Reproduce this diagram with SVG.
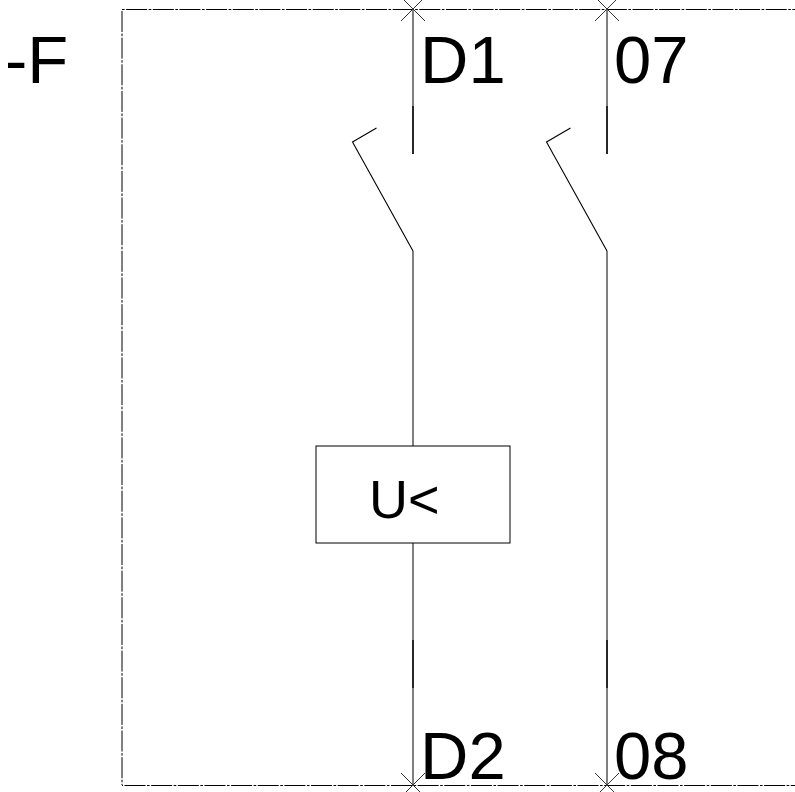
<svg xmlns="http://www.w3.org/2000/svg" width="795" height="792" viewBox="0 0 795 792">
<style>
.t{font-family:"Liberation Sans",Arial,sans-serif;fill:#000}
.m{font-size:67px}
.l{fill:none;stroke:#000;stroke-width:1}
.s{fill:none;stroke:#000;stroke-width:1.1}
.d{fill:none;stroke:#000;stroke-width:1.7}
.f{fill:none;stroke:#000;stroke-width:1;stroke-dasharray:21 1.5 2.65 1.5}
.x{fill:none;stroke:#333;stroke-width:1}
</style>
<rect width="795" height="792" fill="#fff"/>
<g id="frame">
<path class="f" style="stroke-dashoffset:22.5" d="M122 9.500H795"/>
<path class="f" d="M122 11V785"/>
<path class="f" style="stroke-dashoffset:24.15" d="M122 785.500H795"/>
</g>
<g id="connectors">
<path class="l" d="M413 9V106"/>
<path class="d" d="M413 106V154"/>
<path class="s" d="M376.500 128 352.500 142 413 251"/>
<path class="l" d="M413 251V446M413 543V640"/>
<path class="d" d="M413 640V688"/>
<path class="l" d="M413 688V785"/>
<path class="l" d="M607 9V106"/>
<path class="d" d="M607 106V154"/>
<path class="s" d="M570.500 128 546.500 142 607 251"/>
<path class="l" d="M607 251V640"/>
<path class="d" d="M607 640V688"/>
<path class="l" d="M607 688V785"/>
</g>
<g id="terminals">
<path class="x" d="M401 21 425 -3M401 -3 425 21"/>
<path class="x" d="M595 21 619 -3M595 -3 619 21"/>
<path class="x" d="M401 773 425 797M401 797 425 773"/>
<path class="x" d="M595 773 619 797M595 797 619 773"/>
</g>
<g id="relay">
<rect x="316" y="446" width="194" height="97" class="l"/>
<text class="t" x="369" y="517.500" font-size="54">U&lt;</text>
</g>
<g id="labels">
<text class="t m" x="5" y="82.500">-F</text>
<text class="t m" x="420" y="82.500">D1</text>
<text class="t m" x="614" y="82.500">07</text>
<text class="t m" x="420" y="778.500">D2</text>
<text class="t m" x="614" y="778.500">08</text>
</g>
</svg>
